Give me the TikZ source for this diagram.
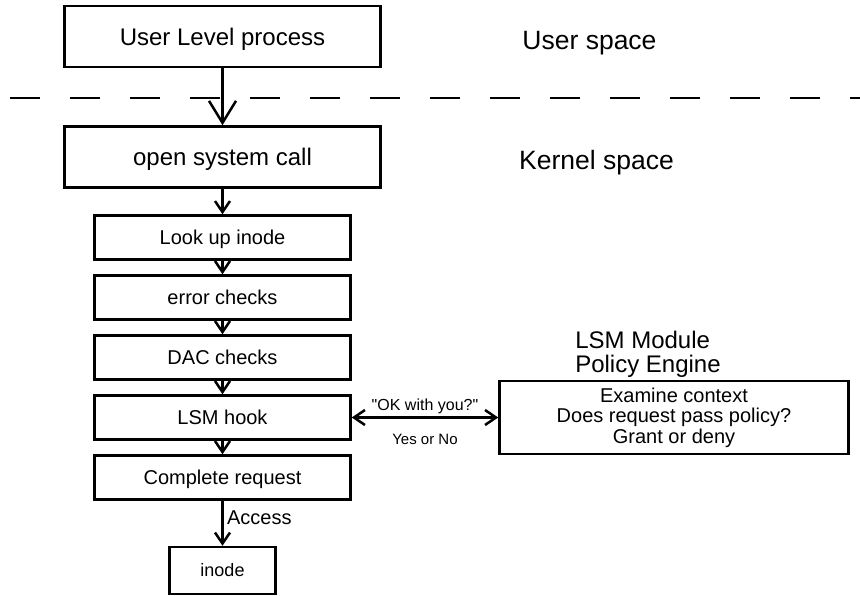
\documentclass[tikz,border=0pt]{standalone}
\usepackage{fontspec}
\setmainfont{Liberation Sans}[Ligatures=TeXReset]
\usepackage{tikz}
\usetikzlibrary{arrows.meta, positioning}
\tikzstyle{bigprocess} = [rectangle, minimum width=316pt, minimum height=61pt, text centered, text depth=0pt, draw=black, line width=2.5pt, font=\fontsize{24}{24}\selectfont]
\tikzstyle{process} = [rectangle, minimum width=256pt, minimum height=44pt, text centered, text depth=0pt, draw=black, line width=2.5pt, font=\fontsize{20}{20}\selectfont]
\tikzstyle{target} = [rectangle, minimum width=106pt, minimum height=47pt, text centered, draw=black, line width=2.5pt, font=\fontsize{18}{18}\selectfont]
\tikzstyle{engine} = [rectangle, minimum width=349pt, minimum height=73pt, align=center, draw=black, line width=2.5pt, font=\fontsize{20}{20.5}\selectfont]
\tikzstyle{spacename} = [font=\fontsize{26.5}{26.5}\selectfont]
\tikzstyle{modulename} = [align=left, font=\fontsize{24}{24}\selectfont]
\tikzstyle{arrow} = [line width=2.5pt,-{Straight Barb[length=11pt,width=15pt]}]
\tikzstyle{bigarrow} = [line width=2.5pt,-{Straight Barb[length=22pt,width=27pt]}]
\tikzstyle{twoway} = [line width=2.5pt,{Straight Barb[length=11pt,width=15pt]}-{Straight Barb[length=11pt,width=15pt]}]
\tikzstyle{boundary} = [line width=2.5pt, dash pattern=on 30pt off 30pt]
\begin{document}
\begin{tikzpicture}[x=1pt, y=-1pt, node distance=60pt]
        \useasboundingbox (0,0) rectangle (860,595);

        % Nodes
        \node (user) [bigprocess] at (222.5,36.5) {User Level process};
        \node (userspace) [spacename, right of=user, xshift=307pt, yshift=-6.5pt] {User space};

        \node (open) [bigprocess, below of=user, yshift=-60.5pt] {open system call};
        \node (kernelspace) [spacename, right of=open, xshift=314pt, yshift=-6pt] {Kernel space};

        \node (lookup) [process, below of=open, yshift=-20.5pt] {Look up inode};
        \node (errors) [process, below of=lookup] {error checks};
        \node (dac) [process, below of=errors] {DAC checks};
        \node (hook) [process, below of=dac] {LSM hook};
        \node (complete) [process, below of=hook] {Complete request};
        \node (inode) [target, below of=complete, yshift=-33pt] {inode};

        \node (policy) [engine, right of=hook, xshift=391.5pt] {
            Examine context\\
            Does request pass policy?\\
            Grant or deny
        };
        \node (module) [modulename, above of=policy, yshift=3.5pt, xshift=-26pt] {LSM Module\\Policy Engine};

        % User/kernel boundary
        \draw [boundary] (10,98) -- (860,98);

        % Arrows
        \draw [bigarrow] (user) -- (open);
        \draw [arrow] (open) -- (lookup);
        \draw [arrow] (lookup) -- (errors);
        \draw [arrow] (errors) -- (dac);
        \draw [arrow] (dac) -- (hook);
        \draw [arrow] (hook) -- (complete);
        \draw [arrow] (complete) -- node[right, pos=0.37, font=\fontsize{20}{20}\selectfont] {Access} (inode);

        \draw [twoway] (hook) -- node[above=-1pt, font=\fontsize{16}{16}\selectfont] {"OK with you?"}
            node[below=12pt, font=\fontsize{15}{15}\selectfont] {Yes or No} (policy);

    \end{tikzpicture}
\end{document}
